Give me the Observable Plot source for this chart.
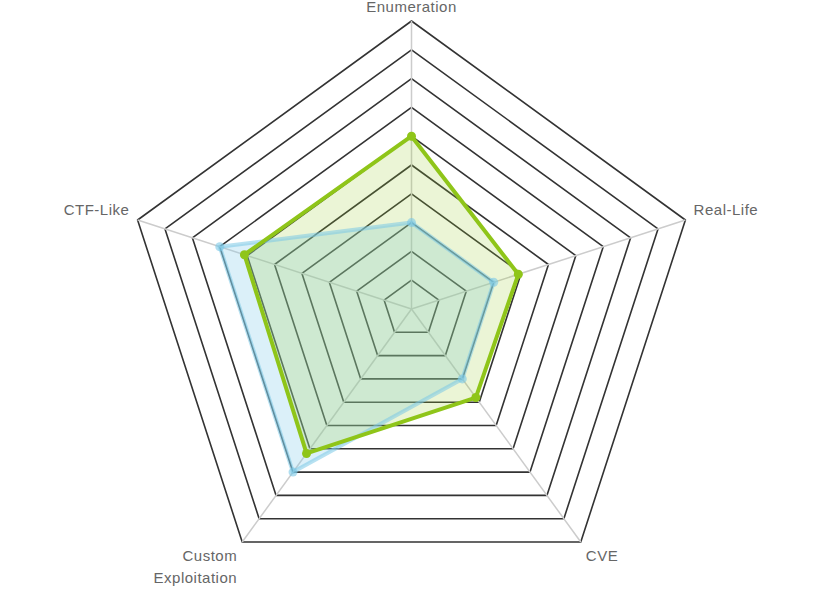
<!DOCTYPE html>
<html>
<head>
<meta charset="utf-8">
<script src="https://cdn.jsdelivr.net/npm/d3@7"></script>
<script src="https://cdn.jsdelivr.net/npm/@observablehq/plot@0.6"></script>
<style>
  html, body { margin: 0; padding: 0; background: #fff; }
  #chart { width: 822px; height: 601px; overflow: hidden; }
</style>
</head>
<body>
<div id="chart"></div>
<script>
// ---- data ----
const axisNames = ["Enumeration", "Real-Life", "CVE", "Custom Exploitation", "CTF-Like"];
const axisLabels = ["Enumeration", "Real-Life", "CVE", "Custom\nExploitation", "CTF-Like"];
const seriesBlue = [3, 3, 3, 7, 7];
const seriesGreen = [6, 3.9, 3.8, 6.2, 6.1];
const ringLevels = [1, 2, 3, 4, 5, 6, 7, 8, 9, 10];

// ---- geometry helpers (polar -> cartesian in data units) ----
const n = axisNames.length;
const ang = i => (i * 2 * Math.PI) / n;
const px = (i, r) => r * Math.sin(ang(i));
const py = (i, r) => r * Math.cos(ang(i));

const W = 822, H = 601, unit = 28.8, cx = 411, cy = 308.5;

const ringData = ringLevels.flatMap(l => axisNames.map((a, i) => ({ l, x: px(i, l), y: py(i, l) })));
const spokeData = axisNames.map((a, i) => ({ a, x: px(i, 10), y: py(i, 10) }));
const toPts = (vals, s) => vals.map((v, i) => ({ s, axis: axisNames[i], x: px(i, v), y: py(i, v) }));
const blue = toPts(seriesBlue, "blue");
const green = toPts(seriesGreen, "green");

const labelR = 10.3;
const anchors = [
  { ta: "middle", la: "bottom", dy: 0 },
  { ta: "start", la: "bottom", dy: -2 },
  { ta: "start", la: "top", dy: -4 },
  { ta: "end", la: "top", dy: -4 },
  { ta: "end", la: "bottom", dy: -2 }
];
const labelMarks = axisLabels.map((t, i) =>
  Plot.text([{ t, x: px(i, labelR), y: py(i, labelR) }], {
    x: "x", y: "y", text: "t", dy: anchors[i].dy,
    textAnchor: anchors[i].ta, lineAnchor: anchors[i].la,
    lineHeight: 1.47,
    fontSize: 15, fill: "#666",
    fontFamily: "'Liberation Sans', Arial, sans-serif",
    style: "letter-spacing:0.5px"
  })
);

const chart = Plot.plot({
  width: W, height: H,
  margin: 0,
  x: { domain: [-cx / unit, (W - cx) / unit], axis: null },
  y: { domain: [-(H - cy) / unit, cy / unit], axis: null },
  style: { background: "#fff", overflow: "visible" },
  marks: [
    Plot.line(ringData, { x: "x", y: "y", z: "l", curve: "linear-closed", stroke: "#333", strokeWidth: 1.6 }),
    Plot.link(spokeData, { x1: 0, y1: 0, x2: "x", y2: "y", stroke: "#ccc", strokeWidth: 1.5 }),
    Plot.line(blue, { x: "x", y: "y", curve: "linear-closed", fill: "#87ceeb", fillOpacity: 0.3, stroke: "none" }),
    Plot.line(green, { x: "x", y: "y", curve: "linear-closed", fill: "#9acd32", fillOpacity: 0.2, stroke: "none" }),
    Plot.line(blue, { x: "x", y: "y", curve: "linear-closed", stroke: "#7cc8e6", strokeOpacity: 0.55, strokeWidth: 4 }),
    Plot.dot(blue, { x: "x", y: "y", r: 4.5, fill: "#7cc8e6", fillOpacity: 0.6, stroke: "none" }),
    Plot.line(green, { x: "x", y: "y", curve: "linear-closed", stroke: "#8fc519", strokeWidth: 4 }),
    Plot.dot(green, { x: "x", y: "y", r: 4.5, fill: "#8fc519", stroke: "none" }),
    ...labelMarks
  ]
});
// apply letter spacing to label texts
chart.querySelectorAll("text").forEach(t => t.style.letterSpacing = "0.5px");
document.getElementById("chart").appendChild(chart);
</script>
</body>
</html>
